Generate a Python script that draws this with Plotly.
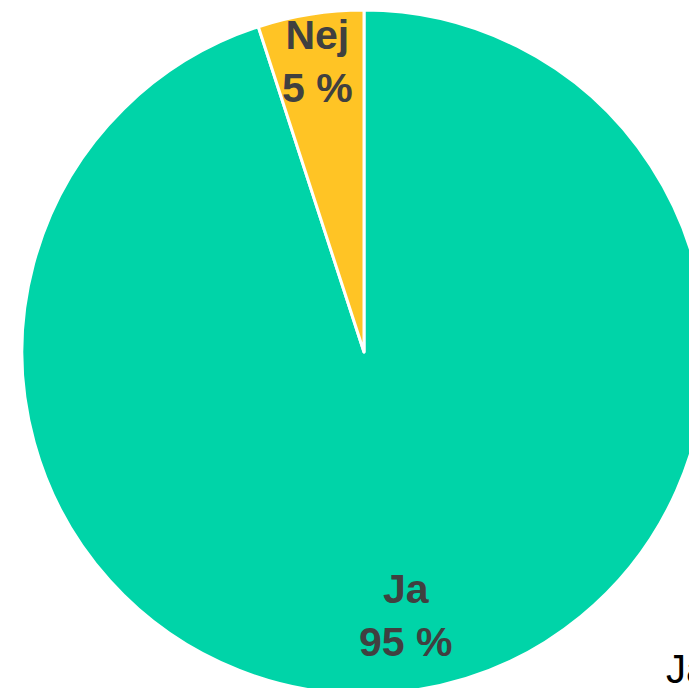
import math
import plotly.graph_objects as go

labels = ["Ja", "Nej"]
values = [95, 5]
colors = ["#00D4A8", "#FFC425"]
legend_text = "Ja"

fig = go.Figure(go.Pie(
    labels=labels,
    values=values,
    sort=False,
    direction="clockwise",
    marker=dict(colors=colors, line=dict(color="white", width=3)),
    textinfo="none",
    hoverinfo="label+percent",
    showlegend=False,
))

# labels at each slice's mid-angle (slices run clockwise from 12 o'clock)
radius_frac = [0.78, 0.86]
total = sum(values)
start = 0.0
for lab, val, f in zip(labels, values, radius_frac):
    mid = (start + val / 2) / total * 2 * math.pi
    start += val
    fig.add_annotation(
        text=f"<b>{lab}<br>{round(val / total * 100)} %</b>",
        x=0.5 + 0.5 * f * math.sin(mid), y=0.5 + 0.5 * f * math.cos(mid),
        xref="paper", yref="paper", xanchor="center", yanchor="middle",
        showarrow=False,
        font=dict(family="Liberation Sans, Arial", size=41, color="#404040"),
    )

fig.add_annotation(
    text=legend_text, x=0.9385, y=0.071, xref="paper", yref="paper",
    xanchor="left", yanchor="top", showarrow=False,
    font=dict(family="Liberation Sans, Arial", size=40, color="#000000"),
)

fig.update_layout(
    width=720, height=700, autosize=False,
    margin=dict(l=22, r=14, t=10, b=6),
    paper_bgcolor="white", plot_bgcolor="white",
)

fig.write_html("out.html", config={"displayModeBar": False},
               post_script="document.body.style.overflow='hidden';document.body.style.margin='0';")
